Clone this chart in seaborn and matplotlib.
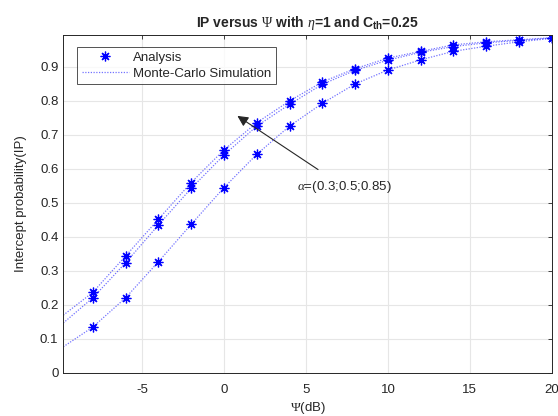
import numpy as np
import pandas as pd
import matplotlib
matplotlib.use("Agg")
import matplotlib.pyplot as plt
import seaborn as sns

sns.set_style("white")
plt.rcParams['font.family'] = ['Liberation Sans', 'DejaVu Sans']
plt.rcParams['axes.unicode_minus'] = False
plt.rcParams['mathtext.fontset'] = 'custom'
plt.rcParams['mathtext.rm'] = 'Liberation Serif'
plt.rcParams['mathtext.it'] = 'Liberation Serif:italic'
plt.rcParams['mathtext.bf'] = 'Liberation Sans:bold'
plt.rcParams['mathtext.sf'] = 'Liberation Sans'

# Psi (dB) sample points of the analysis markers
psi_db = [-8, -6, -4, -2, 0, 2, 4, 6, 8, 10, 12, 14, 16, 18, 20]

# Intercept probability for the three alpha values
ip_upper = [0.237, 0.344, 0.452, 0.560, 0.656, 0.736, 0.800, 0.856, 0.895,
            0.926, 0.946, 0.965, 0.974, 0.980, 0.986]
ip_middle = [0.221, 0.324, 0.435, 0.543, 0.641, 0.726, 0.790, 0.849, 0.890,
             0.920, 0.943, 0.960, 0.971, 0.978, 0.985]
ip_lower = [0.135, 0.221, 0.327, 0.437, 0.545, 0.643, 0.726, 0.793, 0.850,
            0.891, 0.921, 0.946, 0.961, 0.974, 0.984]

# Monte-Carlo curves start at the left edge of the axes
sim_start_x = -9.8
sim_start_ip = [0.170, 0.147, 0.077]

curves = [ip_upper, ip_middle, ip_lower]

fig = plt.figure(figsize=(5.58, 4.16), dpi=100)
ax = fig.add_axes([0.1134, 0.1034, 0.8756, 0.8125])

marker_handle = None
line_handle = None
for ip, start in zip(curves, sim_start_ip):
    sim = pd.DataFrame({'x': [sim_start_x] + psi_db, 'y': [start] + ip})
    sns.lineplot(data=sim, x='x', y='y', ax=ax, color='blue', alpha=0.55,
                 linestyle=(0, (1, 1.2)), linewidth=0.9, sort=True)
    line_handle = ax.lines[-1]
    ana = pd.DataFrame({'x': psi_db, 'y': ip})
    sns.lineplot(data=ana, x='x', y='y', ax=ax, color='blue', linestyle='none',
                 marker=(8, 2, 0), markersize=7, markeredgecolor='blue',
                 markeredgewidth=0.9)
    marker_handle = ax.lines[-1]

ax.set_xlim(-9.8, 20)
ax.set_ylim(0, 0.994)
ax.set_xticks([-5, 0, 5, 10, 15, 20])
ax.set_yticks(np.arange(0, 1.0, 0.1))
ax.set_yticklabels([f'{v:g}' for v in np.round(np.arange(0, 1.0, 0.1), 1)])
ax.grid(True, color='#e6e6e6', linewidth=0.8)
ax.set_axisbelow(True)
ax.tick_params(direction='in', length=3, width=0.6, labelsize=9.5,
               colors='#262626', top=True, right=True, labelcolor='#262626')
ax.tick_params(axis='x', pad=8)
for s in ax.spines.values():
    s.set_color('#262626')
    s.set_linewidth(0.7)

ax.set_xlabel(r'$\Psi$(dB)', fontsize=9.5, color='#262626', labelpad=3)
ax.set_ylabel('Intercept probability(IP)', fontsize=9.5, color='#262626', labelpad=9)
ax.set_title(r'IP versus $\Psi$ with $\eta$=1 and C$_{\mathbf{th}}$=0.25',
             fontsize=10, fontweight='bold', pad=6)

ax.annotate(r'$\alpha$=(0.3;0.5;0.85)', xy=(0.82, 0.756), xytext=(4.45, 0.547),
            fontsize=9.5, va='center', ha='left', color='#262626',
            arrowprops=dict(arrowstyle='-|>', color='#262626', lw=0.8,
                            mutation_scale=16, shrinkA=8, shrinkB=0))

leg = ax.legend([marker_handle, line_handle], ['Analysis', 'Monte-Carlo Simulation'],
                loc='upper left', bbox_to_anchor=(0.028, 0.965), fontsize=9.5,
                frameon=True, fancybox=False, edgecolor='#262626',
                borderpad=0.35, labelspacing=0.3, handlelength=3.6,
                handletextpad=0.3, borderaxespad=0)
leg.get_frame().set_linewidth(0.7)

fig.savefig('out.png', dpi=100)
